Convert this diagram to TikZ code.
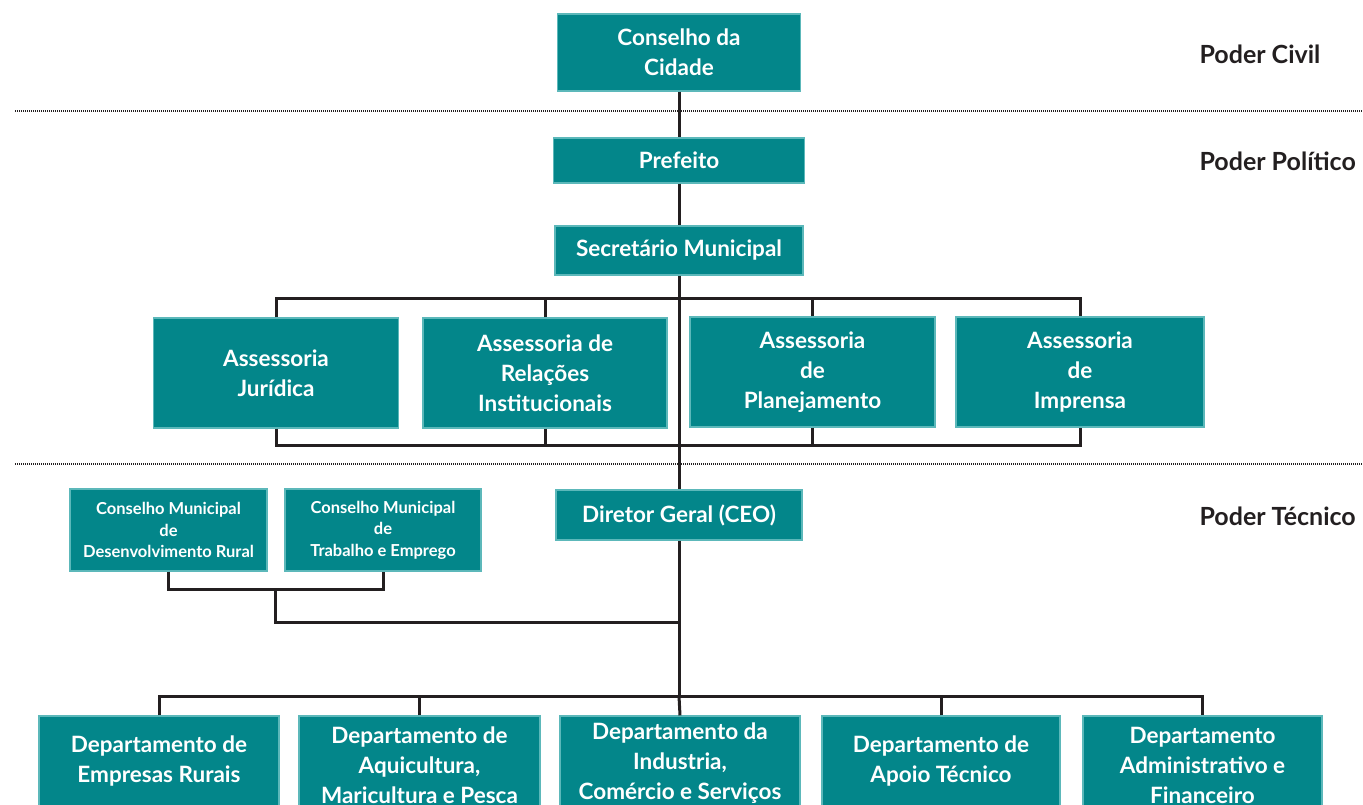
\documentclass[tikz,border=0pt]{standalone}
\usepackage{fontspec}
\setmainfont{Lato}
\definecolor{boxfill}{RGB}{3,134,138}
\definecolor{boxedge}{RGB}{92,184,186}
\definecolor{ink}{RGB}{35,31,32}
\begin{document}
\begin{tikzpicture}[x=1pt,y=-1pt,
  unit/.style={rectangle, fill=boxfill, draw=boxedge, line width=1.1pt, text=white,
    align=center, inner sep=0pt, font=\fontsize{22.5}{30}\selectfont\bfseries},
  small/.style={unit, font=\fontsize{16.5}{21.5}\selectfont\bfseries},
  link/.style={draw=ink, line width=3pt},
  divider/.style={draw=ink, line width=2.4pt, dash pattern=on 1.2pt off 0.8pt},
  tier/.style={anchor=west, text=ink, font=\fontsize{25}{28}\selectfont\bfseries}]
\useasboundingbox (0,0) rectangle (1363,805);
\clip (0,0) rectangle (1363,805);

% tier dividers
\draw[divider] (15,111) -- (1363,111);
\draw[divider] (15,464) -- (1363,464);

% tier labels
\node[tier] (tcivil) at (1196,54) {Poder Civil};
\node[tier] (tpol) at (1196,161) {Poder Político};
\node[tier] (ttec) at (1196,516) {Poder Técnico};

% main column
\node[unit, minimum width=243pt, minimum height=77pt] (cc) at (679,52.5) {Conselho da\\Cidade};
\node[unit, minimum width=251pt, minimum height=45pt] (pref) at (679,160.5) {Prefeito};
\node[unit, minimum width=248pt, minimum height=49pt] (sec) at (679,250.5) {Secretário Municipal};
\node[unit, minimum width=246pt, minimum height=50pt] (ceo) at (679,515) {Diretor Geral (CEO)};

% advisory units
\node[unit, minimum width=245pt, minimum height=110pt] (aj) at (276,373) {Assessoria\\Jurídica};
\node[unit, minimum width=244pt, minimum height=110pt] (ari) at (545,373) {Assessoria de\\Relações\\Institucionais};
\node[unit, minimum width=245pt, minimum height=110pt] (ap) at (812.5,372) {Assessoria\\de\\Planejamento};
\node[unit, minimum width=248pt, minimum height=110pt] (ai) at (1080,372) {Assessoria\\de\\Imprensa};

% municipal councils
\node[small, minimum width=197pt, minimum height=82pt] (cmdr) at (168.5,530) {Conselho Municipal\\de\\Desenvolvimento Rural};
\node[small, minimum width=196pt, minimum height=82pt] (cmte) at (383,530) {Conselho Municipal\\de\\Trabalho e Emprego};

% departments (boxes run past the lower edge)
\node[unit, minimum width=240pt, minimum height=90pt] (d1) at (159,761) {Departamento de\\Empresas Rurais};
\node[unit, minimum width=241pt, minimum height=98pt] (d2) at (419.5,765) {Departamento de\\Aquicultura,\\Maricultura e Pesca};
\node[unit, minimum width=240pt, minimum height=94pt] (d3) at (680,763) {Departamento da\\Industria,\\Comércio e Serviços};
\node[unit, minimum width=238pt, minimum height=90pt] (d4) at (941,761) {Departamento de\\Apoio Técnico};
\node[unit, minimum width=239pt, minimum height=98pt] (d5) at (1202.5,765) {Departamento\\Administrativo e\\Financeiro};

% junction points
\coordinate (tb) at (679,298);
\coordinate (bb) at (679,445);
\coordinate (cb) at (275,589);
\coordinate (cj) at (679,622);
\coordinate (db) at (679,696);

% spine
\draw[link] (cc.south) -- (pref.north);
\draw[link] (pref.south) -- (sec.north);
\draw[link] (sec.south) -- (ceo.north);
\draw[link] (ceo.south) -- (db);

% advisory brackets
\draw[link] (aj.north) |- (tb) -| (ai.north);
\draw[link] (ari.north) -- (ari.north |- tb);
\draw[link] (ap.north) -- (ap.north |- tb);
\draw[link] (aj.south) |- (bb) -| (ai.south);
\draw[link] (ari.south) -- (ari.south |- bb);
\draw[link] (ap.south) -- (ap.south |- bb);

% councils bracket
\draw[link] (cmdr.south) |- (cb) -| (cmte.south);
\draw[link] (cb) |- (cj);

% departments bracket
\draw[link] (d1.north) |- (db) -| (d5.north);
\draw[link] (d2.north) -- (d2.north |- db);
\draw[link] (d3.north) -- (db);
\draw[link] (d4.north) -- (d4.north |- db);
\end{tikzpicture}
\end{document}
